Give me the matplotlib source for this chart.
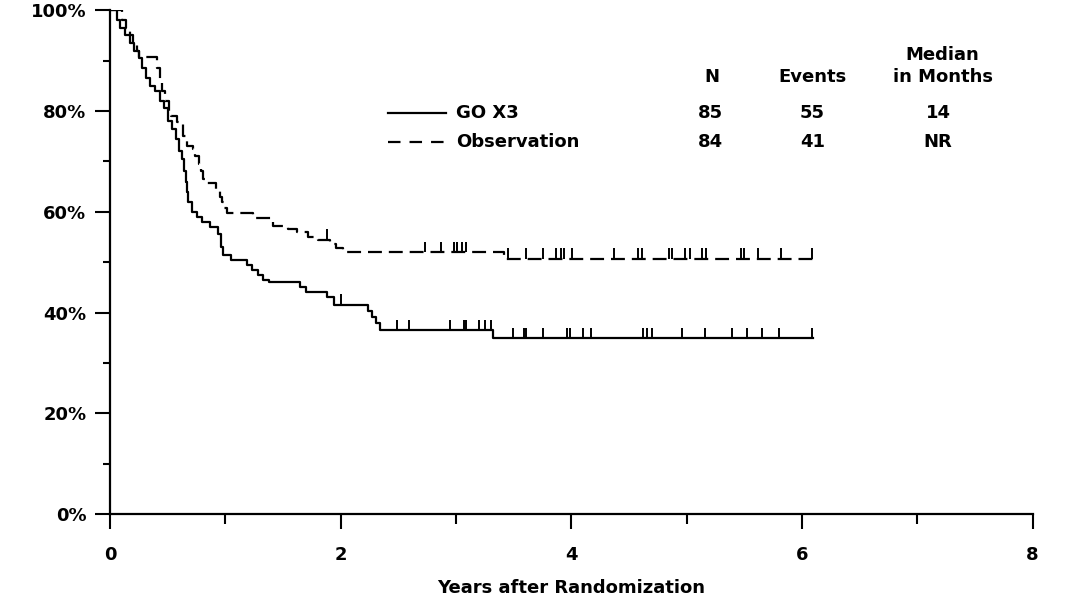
import numpy as np
import matplotlib
matplotlib.use('Agg')
import matplotlib.pyplot as plt
from matplotlib.ticker import MultipleLocator, FuncFormatter

plt.rcParams['font.family'] = ['DejaVu Sans']
plt.rcParams['font.weight'] = 'bold'
plt.rcParams['lines.scale_dashes'] = False

# ── Kaplan-Meier steps (years, survival %) ─────────────────────────
go_t = [0, 0.06, 0.09, 0.13, 0.17, 0.21, 0.25, 0.28, 0.31, 0.35, 0.39, 0.43,
        0.47, 0.50, 0.54, 0.57, 0.60, 0.62, 0.64, 0.655, 0.665, 0.68, 0.71,
        0.75, 0.80, 0.87, 0.94, 0.96, 0.98, 1.05, 1.19, 1.23, 1.28, 1.33,
        1.38, 1.65, 1.70, 1.88, 1.94, 2.24, 2.27, 2.31, 2.34, 3.32]
go_s = [100, 98, 96.5, 95, 93.5, 92, 90.5, 88.5, 86.5, 85, 84, 82,
        80.5, 78, 76.5, 74.5, 72, 70.5, 68, 66, 64, 62, 60,
        59, 58, 57, 55.5, 53, 51.5, 50.5, 49.5, 48.5, 47.5, 46.5,
        46, 45, 44, 43, 41.6, 40.3, 39.2, 38, 36.5, 34.9]
go_end = 6.1
go_cens = [2.0, 2.49, 2.59, 2.95, 3.07, 3.09, 3.20, 3.25, 3.30, 3.49, 3.59,
           3.61, 3.75, 3.96, 3.99, 4.10, 4.17, 4.62, 4.66, 4.70, 4.96, 5.16,
           5.39, 5.52, 5.65, 5.80, 6.09]

obs_t = [0, 0.10, 0.14, 0.17, 0.20, 0.23, 0.25, 0.41, 0.43, 0.45, 0.48, 0.51,
         0.53, 0.58, 0.63, 0.67, 0.72, 0.74, 0.77, 0.79, 0.81, 0.83, 0.92,
         0.95, 0.97, 0.99, 1.01, 1.24, 1.41, 1.54, 1.62, 1.72, 1.80, 1.91,
         1.96, 2.02, 3.42]
obs_s = [100, 98, 96.5, 95, 93.5, 92, 90.7, 88.5, 86, 84, 82, 80,
         79, 77.8, 75, 73, 72.4, 71, 69.5, 68, 66.5, 65.8, 64.5,
         63, 62, 60.8, 59.7, 58.7, 57.1, 56.5, 56, 55, 54.5, 53.6,
         52.8, 52.0, 50.7]
obs_end = 6.1
obs_cens = [1.88, 2.73, 2.87, 2.98, 3.01, 3.05, 3.09, 3.45, 3.61, 3.75, 3.87,
            3.91, 3.94, 4.01, 4.37, 4.58, 4.61, 4.85, 4.87, 4.99, 5.03, 5.13,
            5.17, 5.47, 5.50, 5.62, 5.82, 6.09]

groups = ['GO X3', 'Observation']
n_pts = ['85', '84']
events = ['55', '41']
medians = ['14', 'NR']

fig, ax = plt.subplots(figsize=(10.79, 6.0), dpi=100)
fig.subplots_adjust(left=0.102, right=0.957, bottom=0.143, top=0.983)


def km_line(t, s, end, cens, ls):
    tt = list(t) + [end]
    ss = list(s) + [s[-1]]
    ax.step(tt, ss, where='post', color='black', lw=1.6, linestyle=ls)
    idx = np.searchsorted(np.array(t), np.array(cens), side='right') - 1
    base = np.array(s)[idx]
    ax.vlines(cens, base, base + 2.1, color='black', lw=1.4)


km_line(go_t, go_s, go_end, go_cens, '-')
km_line(obs_t, obs_s, obs_end, obs_cens, (0, (10, 5)))

# ── axes ──
ax.set_xlim(0, 8)
ax.set_ylim(0, 100)
for sp in ['top', 'right']:
    ax.spines[sp].set_visible(False)
for sp in ['left', 'bottom']:
    ax.spines[sp].set_linewidth(1.6)
ax.xaxis.set_major_locator(MultipleLocator(2))
ax.xaxis.set_minor_locator(MultipleLocator(1))
ax.yaxis.set_major_locator(MultipleLocator(20))
ax.yaxis.set_minor_locator(MultipleLocator(10))
ax.yaxis.set_major_formatter(FuncFormatter(lambda v, p: f'{v:.0f}%'))
ax.tick_params(axis='both', which='major', width=1.5, labelsize=13)
ax.tick_params(axis='x', which='major', length=11, pad=12)
ax.tick_params(axis='x', which='minor', length=7, width=1.5)
ax.tick_params(axis='y', which='major', length=11, pad=6)
ax.tick_params(axis='y', which='minor', length=5, width=1.5)
ax.set_xlabel('Years after Randomization', fontsize=13, fontweight='bold', labelpad=11)

# ── legend table ──
fs = 13
ax.text(5.22, 86.7, 'N', ha='center', va='center', fontsize=fs)
ax.text(6.09, 86.7, 'Events', ha='center', va='center', fontsize=fs)
ax.text(7.22, 91.1, 'Median', ha='center', va='center', fontsize=fs)
ax.text(7.22, 86.7, 'in Months', ha='center', va='center', fontsize=fs)
row_y = [79.6, 73.8]
styles = ['-', (0, (9, 6.5))]
for i in range(2):
    ax.plot([2.41, 2.91], [row_y[i], row_y[i]], color='black', lw=1.6, linestyle=styles[i])
    ax.text(3.0, row_y[i], groups[i], ha='left', va='center', fontsize=fs)
    ax.text(5.21, row_y[i], n_pts[i], ha='center', va='center', fontsize=fs)
    ax.text(6.09, row_y[i], events[i], ha='center', va='center', fontsize=fs)
    ax.text(7.18, row_y[i], medians[i], ha='center', va='center', fontsize=fs)

plt.savefig('out.png', dpi=100)
